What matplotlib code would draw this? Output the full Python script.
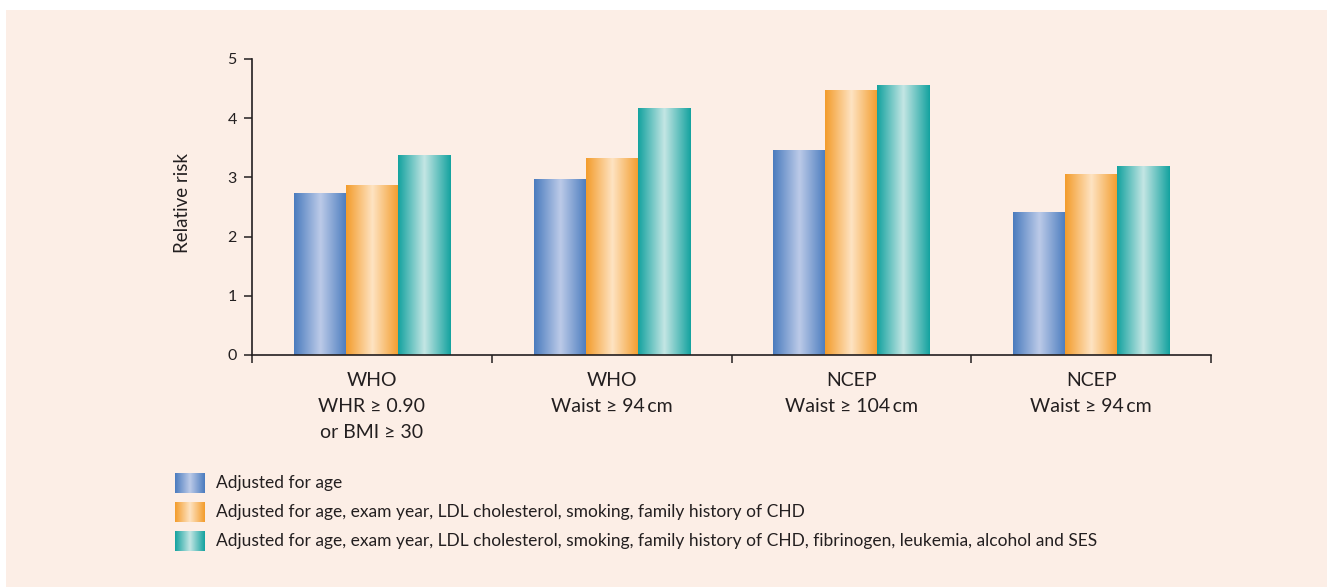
import numpy as np
import matplotlib
matplotlib.use("Agg")
import matplotlib.pyplot as plt
from matplotlib.colors import LinearSegmentedColormap
from matplotlib.patches import Rectangle

# ---- data -------------------------------------------------------------
categories = [
    ["WHO", "WHR \u2265 0.90", "or BMI \u2265 30"],
    ["WHO", "Waist \u2265 94\u2009cm"],
    ["NCEP", "Waist \u2265 104\u2009cm"],
    ["NCEP", "Waist \u2265 94\u2009cm"],
]
series_labels = [
    "Adjusted for age",
    "Adjusted for age, exam year, LDL cholesterol, smoking, family history of CHD",
    "Adjusted for age, exam year, LDL cholesterol, smoking, family history of CHD, "
    "fibrinogen, leukemia, alcohol and SES",
]
age_only = [2.73, 2.97, 3.46, 2.41]
partial_adj = [2.88, 3.32, 4.47, 3.05]
full_adj = [3.37, 4.17, 4.56, 3.20]
series_values = [age_only, partial_adj, full_adj]
y_ticks = [0, 1, 2, 3, 4, 5]

# ---- styling ----------------------------------------------------------
W, H, DPI = 1327, 587, 100
BG = "#FCEEE6"
INK = "#231F20"
FONT = ["Lato", "DejaVu Sans"]
gradients = [
    ("#4A7BBE", "#BCCAE8"),
    ("#F39C2B", "#FEE3C2"),
    ("#13A29F", "#C4E6E4"),
]

plt.rcParams["font.family"] = FONT
plt.rcParams["text.color"] = INK
plt.rcParams["axes.edgecolor"] = INK
plt.rcParams["xtick.color"] = INK
plt.rcParams["ytick.color"] = INK


def ramp(dark, light):
    return LinearSegmentedColormap.from_list("r", [dark, light, dark])


profile = np.linspace(0, 1, 256).reshape(1, -1)

fig = plt.figure(figsize=(W / DPI, H / DPI), dpi=DPI, facecolor="white")

# background panel and legend live on a pixel-space layer
layer = fig.add_axes([0, 0, 1, 1], zorder=-1)
layer.axis("off")
layer.add_patch(Rectangle((6, 10), W - 6, H - 10, facecolor=BG,
                          edgecolor="none", zorder=0))

ax_left, ax_right, ax_top, ax_bottom = 252, 1211, 59, 355
ax = fig.add_axes([ax_left / W, 1 - ax_bottom / H,
                   (ax_right - ax_left) / W, (ax_bottom - ax_top) / H])
ax.set_facecolor("none")

n_cat = len(categories)
x = np.arange(n_cat)
bar_w = 0.217
offsets = [-bar_w, 0.0, bar_w]

for vals, off, (dark, light) in zip(series_values, offsets, gradients):
    bars = ax.bar(x + off, vals, bar_w, color="none", linewidth=0, zorder=2)
    cmap = ramp(dark, light)
    for b in bars:
        x0 = b.get_x()
        im = ax.imshow(profile, cmap=cmap, aspect="auto", interpolation="bilinear",
                       extent=[x0, x0 + b.get_width(), 0, b.get_height()], zorder=2)
        im.set_clip_path(b)

ax.set_xlim(-0.5, n_cat - 0.5)
ax.set_ylim(0, 5)

for side in ("top", "right"):
    ax.spines[side].set_visible(False)
for side in ("left", "bottom"):
    ax.spines[side].set_linewidth(1.2)
    ax.spines[side].set_zorder(3)

ax.set_yticks(y_ticks)
ax.set_yticklabels([str(t) for t in y_ticks])
ax.tick_params(axis="y", direction="out", length=6, width=1.1, pad=5, labelsize=11.5)

ax.set_xticks(np.arange(n_cat + 1) - 0.5)
ax.set_xticklabels([])
ax.tick_params(axis="x", direction="out", length=6, width=1.1)

# category labels, one line at a time
for xi, lines in zip(x, categories):
    for i, line in enumerate(lines):
        ax.annotate(line, xy=(xi, 0), xycoords=("data", "axes fraction"),
                    xytext=(0, -31 - i * 26), textcoords="offset pixels",
                    ha="center", va="baseline", fontsize=14, color=INK)

fig.text(182 / W, 1 - 203 / H, "Relative risk", rotation=90,
         ha="center", va="center", fontsize=13.5, color=INK)

# legend
row_y = [483, 512, 541]
for ry, label, (dark, light) in zip(row_y, series_labels, gradients):
    sw = Rectangle((175, ry - 10), 30, 20, facecolor="none", edgecolor="none", zorder=2)
    layer.add_patch(sw)
    im = layer.imshow(profile, cmap=ramp(dark, light), aspect="auto",
                      interpolation="bilinear", extent=[175, 205, ry + 10, ry - 10],
                      zorder=3)
    im.set_clip_path(sw)
    layer.text(216, ry, label, ha="left", va="center", fontsize=12.5, color=INK, zorder=3)
layer.set_xlim(0, W)
layer.set_ylim(H, 0)

fig.savefig("out.png", dpi=DPI, facecolor="white")
